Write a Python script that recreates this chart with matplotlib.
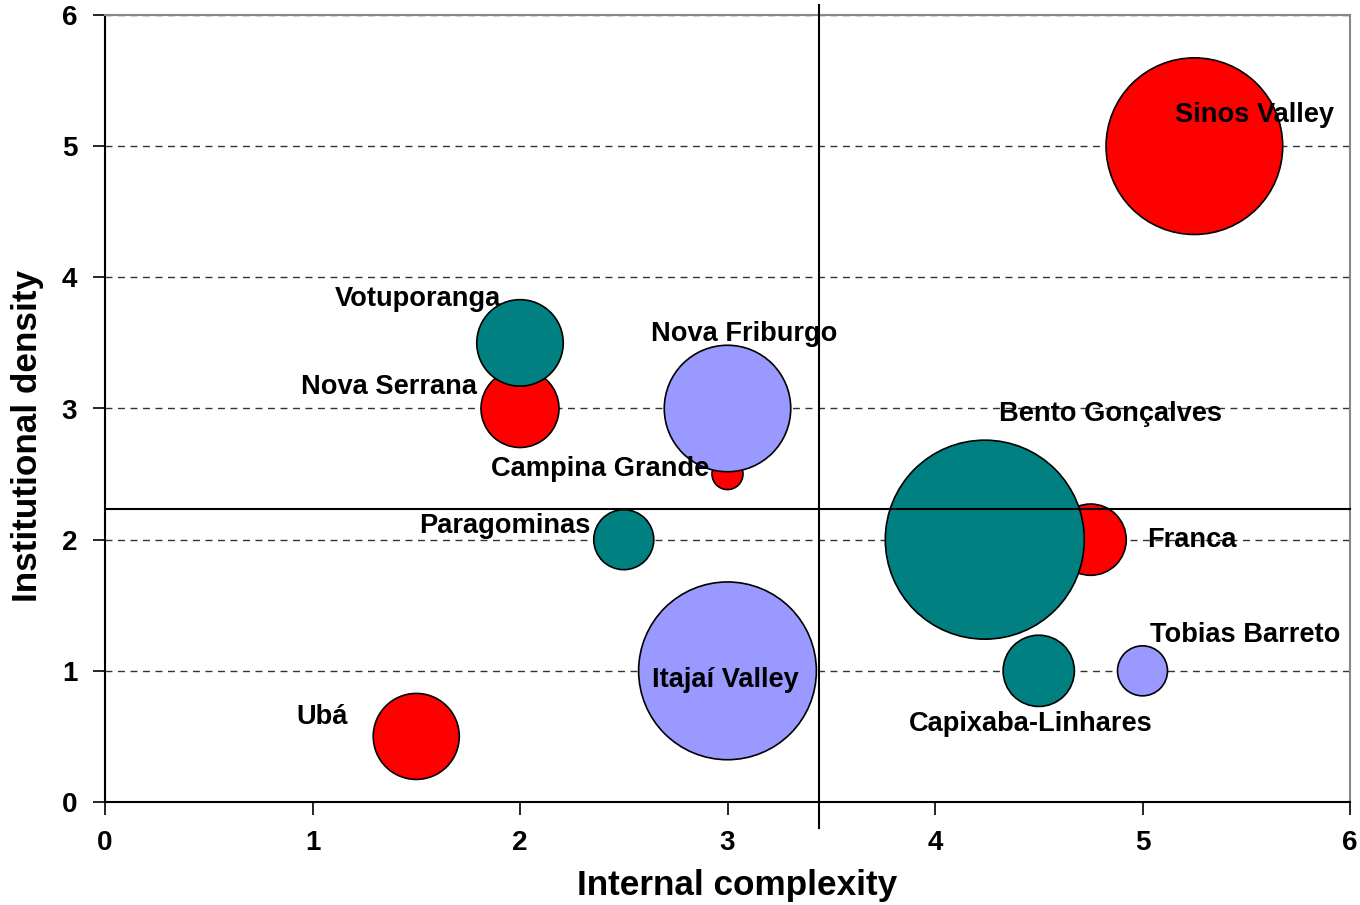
import matplotlib
matplotlib.use("Agg")
import matplotlib.pyplot as plt

# --- cluster data: (internal complexity, institutional density, bubble size) ---
red_names = ["Sinos Valley", "Franca", "Nova Serrana", "Campina Grande", "Ubá"]
red_x = [5.25, 4.75, 2.0, 3.0, 1.5]
red_y = [5.0, 2.0, 3.0, 2.5, 0.5]
red_size = [78, 12.7, 15.2, 2.4, 18.5]

teal_names = ["Bento Gonçalves", "Capixaba-Linhares", "Votuporanga", "Paragominas"]
teal_x = [4.24, 4.5, 2.0, 2.5]
teal_y = [2.0, 1.0, 3.5, 2.0]
teal_size = [99, 12.7, 18.7, 9]

blue_names = ["Nova Friburgo", "Itajaí Valley", "Tobias Barreto"]
blue_x = [3.0, 3.0, 5.0]
blue_y = [3.0, 1.0, 1.0]
blue_size = [40, 79, 6.25]

# averages used as quadrant dividers
x_mean = 3.44
y_mean = 2.23

ticks = [0, 1, 2, 3, 4, 5, 6]

# label offsets in pixels (dx, dy) from the bubble centre
label_offsets = {
    "Sinos Valley": (60, 31),
    "Franca": (101, 0),
    "Nova Serrana": (-131, 22),
    "Campina Grande": (-127, 5),
    "Ubá": (-94, 19),
    "Bento Gonçalves": (126, 126),
    "Capixaba-Linhares": (-8, -53),
    "Votuporanga": (-102, 44),
    "Paragominas": (-119, 14),
    "Nova Friburgo": (17, 75),
    "Itajaí Valley": (-2, -9),
    "Tobias Barreto": (103, 36),
}

plt.rcParams['font.family'] = ['Liberation Sans', 'DejaVu Sans']

DPI = 100
fig = plt.figure(figsize=(13.6, 9.05), dpi=DPI)
ax = fig.add_axes([105 / 1360, 103 / 905, 1245 / 1360, 787 / 905])

# bubble area scale: size 1 -> radius 10 px
px = 72.0 / DPI
scale = (2 * 10 * px) ** 2

series = [
    (red_names, red_x, red_y, red_size, "#FF0000"),
    (teal_names, teal_x, teal_y, teal_size, "#008080"),
    (blue_names, blue_x, blue_y, blue_size, "#9999FF"),
]

for names, xs, ys, sizes, color in series:
    order = sorted(range(len(xs)), key=lambda i: -sizes[i])
    ax.scatter([xs[i] for i in order], [ys[i] for i in order],
               s=[sizes[i] * scale for i in order],
               c=color, edgecolors="black", linewidths=1.2, zorder=3)

for names, xs, ys, sizes, color in series:
    for name, x, y in zip(names, xs, ys):
        dx, dy = label_offsets[name]
        ax.annotate(name, (x, y), xytext=(dx, dy), textcoords="offset pixels",
                    ha="center", va="center", fontsize=19.6,
                    fontweight="bold", zorder=5)

# quadrant lines, running a bit beyond the plot frame
ax.plot([x_mean, x_mean], [-0.2, 6.08], color="black", lw=1.5,
        clip_on=False, zorder=4)
ax.plot([0, 6], [y_mean, y_mean], color="black", lw=1.5,
        clip_on=False, zorder=4)

ax.set_xlim(0, 6)
ax.set_ylim(0, 6)
ax.set_xticks(ticks)
ax.set_yticks(ticks)
ax.tick_params(axis="both", direction="out", length=9, width=1.2,
               labelsize=20, pad=11)
for lab in ax.get_xticklabels() + ax.get_yticklabels():
    lab.set_fontweight("bold")

ax.yaxis.grid(True, linestyle=(0, (5, 4)), color="#333333", lw=1.0)
ax.set_axisbelow(True)

for side in ["left", "bottom"]:
    ax.spines[side].set_color("black")
    ax.spines[side].set_linewidth(1.5)
for side in ["top", "right"]:
    ax.spines[side].set_color("#888888")
    ax.spines[side].set_linewidth(1.5)

ax.set_xlabel("Internal complexity", fontsize=25.3, fontweight="bold")
ax.set_ylabel("Institutional density", fontsize=25.3, fontweight="bold")
ax.xaxis.set_label_coords(0.5076, -0.085)
ax.yaxis.set_label_coords(-0.049, 0.465)

fig.savefig("out.png", dpi=DPI)
